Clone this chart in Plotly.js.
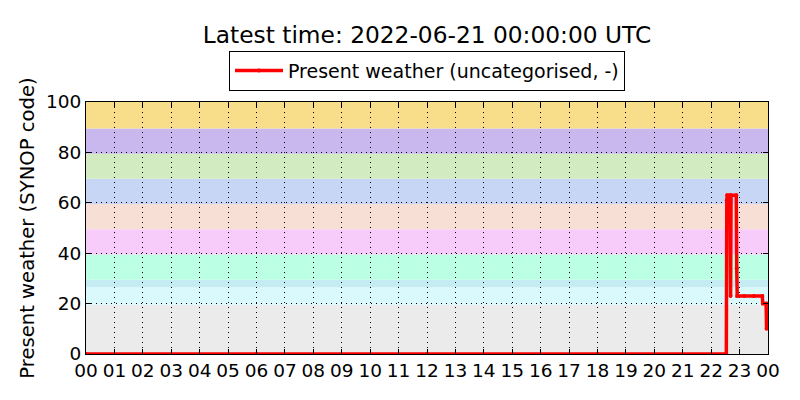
<!DOCTYPE html>
<html>
<head>
<meta charset="utf-8">
<script src="https://cdn.plot.ly/plotly-3.0.1.min.js"></script>
<style>html,body{margin:0;padding:0;background:#fff;}#chart{width:800px;height:400px;}</style>
</head>
<body>
<div id="chart"></div>
<script>
// Observation times (UTC) and present-weather SYNOP codes
const times = [
  '2022-06-20 00:00', '2022-06-20 06:00', '2022-06-20 12:00', '2022-06-20 18:00',
  '2022-06-20 22:32', '2022-06-20 22:33', '2022-06-20 22:34', '2022-06-20 22:40',
  '2022-06-20 22:41', '2022-06-20 22:42', '2022-06-20 22:53', '2022-06-20 22:54',
  '2022-06-20 22:55', '2022-06-20 23:10', '2022-06-20 23:30', '2022-06-20 23:48',
  '2022-06-20 23:49', '2022-06-20 23:56', '2022-06-20 23:57'
];
const weatherCode = [
  0, 0, 0, 0,
  0, 61, 63, 63,
  23, 63, 63, 34,
  23, 23, 23, 23,
  20, 20, 10
];

// Background category bands (SYNOP code groups)
const bandLower = [0, 19.5, 26.5, 29.5, 39.5, 49.5, 59.5, 69.5, 79.5, 89.5];
const bandUpper = [19.5, 26.5, 29.5, 39.5, 49.5, 59.5, 69.5, 79.5, 89.5, 100];
const bandColors = ['#EBEBEB', '#D9F9FD', '#C5ECF3', '#BBFFE5', '#F8CCFA',
                    '#F8DFD6', '#C8D6F5', '#D3EBC0', '#C8B8EE', '#F8DE8A'];

const titleText = 'Latest time: 2022-06-21 00:00:00 UTC';
const seriesName = 'Present weather (uncategorised, -)';
const yTitle = 'Present weather (SYNOP code)';
const xRange = ['2022-06-20 00:00', '2022-06-21 00:00'];
const yTicks = [0, 20, 40, 60, 80, 100];

const shapes = bandLower.map((lo, i) => ({
  type: 'rect', xref: 'paper', yref: 'y', x0: 0, x1: 1, y0: lo, y1: bandUpper[i],
  fillcolor: bandColors[i], line: {width: 0}, layer: 'between'
}));

const trace = {
  x: times, y: weatherCode, type: 'scatter', mode: 'lines+markers',
  name: seriesName,
  line: {color: '#FF0000', width: 3.5},
  marker: {color: '#FF0000', size: 4},
  showlegend: true
};

const font = {family: 'DejaVu Sans, sans-serif', color: '#000'};

const layout = {
  width: 800, height: 400,
  margin: {l: 86, r: 32, t: 102, b: 46},
  paper_bgcolor: '#fff', plot_bgcolor: '#fff',
  font: Object.assign({size: 18}, font),
  title: {text: titleText, x: 0.5, xref: 'paper', xanchor: 'center',
          y: 0.9125, yanchor: 'middle', font: Object.assign({size: 23.3}, font)},
  showlegend: true,
  legend: {x: 0.5, xanchor: 'center', y: 1.045, yanchor: 'bottom',
           bordercolor: '#000', borderwidth: 1, bgcolor: '#fff', itemwidth: 48,
           font: Object.assign({size: 19}, font)},
  xaxis: {
    type: 'date', range: xRange, dtick: 3600000, tick0: xRange[0], tickformat: '%H',
    ticks: 'inside', ticklen: 5, tickcolor: '#000', mirror: 'ticks',
    showline: true, linecolor: '#000', linewidth: 1,
    showgrid: true, gridcolor: '#000', griddash: '1px,4px', gridwidth: 1,
    zeroline: false, tickfont: Object.assign({size: 18.5}, font), fixedrange: true
  },
  yaxis: {
    range: [0, 100], tickvals: yTicks,
    ticks: 'inside', ticklen: 5, tickcolor: '#000', mirror: 'ticks',
    showline: true, linecolor: '#000', linewidth: 1,
    showgrid: true, gridcolor: '#000', griddash: '1px,4px', gridwidth: 1,
    zeroline: false, tickfont: Object.assign({size: 18.5}, font),
    title: {text: yTitle, font: Object.assign({size: 19.6}, font), standoff: 6},
    fixedrange: true
  },
  shapes: shapes
};

Plotly.newPlot('chart', [trace], layout, {staticPlot: true, displayModeBar: false});
</script>
</body>
</html>
